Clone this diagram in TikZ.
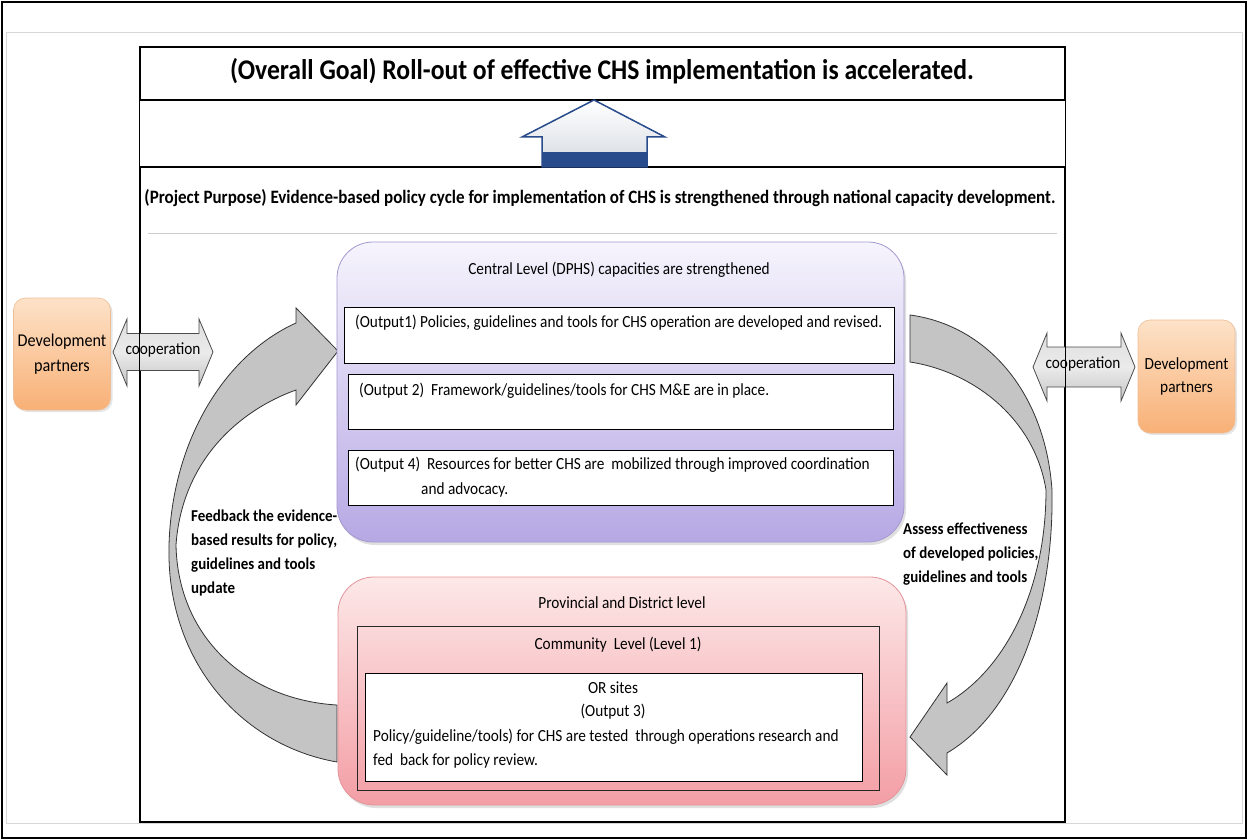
\documentclass[tikz,border=0pt]{standalone}
\usepackage{fontspec}
\setmainfont{Carlito}[FakeStretch=0.9]
\usetikzlibrary{shadows}
\definecolor{navy}{RGB}{40,75,140}
\definecolor{upfill}{RGB}{214,219,226}
\definecolor{panel}{RGB}{215,215,215}
\definecolor{sepgray}{RGB}{205,205,205}
\definecolor{arrgray}{RGB}{196,196,196}
\definecolor{arrlight}{RGB}{222,222,222}
\definecolor{purtop}{RGB}{246,244,253}
\definecolor{purbot}{RGB}{182,168,228}
\definecolor{purline}{RGB}{165,152,208}
\definecolor{pinktop}{RGB}{253,232,232}
\definecolor{pinkbot}{RGB}{243,158,165}
\definecolor{pinkline}{RGB}{228,148,155}
\definecolor{orgtop}{RGB}{253,226,200}
\definecolor{orgbot}{RGB}{248,176,118}
\definecolor{orgline}{RGB}{238,190,150}
\begin{document}
\begin{tikzpicture}[x=1pt,y=-1pt,
  frame/.style={draw=black, line width=1.2pt, inner sep=0pt},
  outbox/.style={draw=black, line width=0.9pt, fill=white, inner sep=0pt},
  t16/.style={inner sep=0pt, font=\fontsize{17}{20}\selectfont},
  b16/.style={inner sep=0pt, align=left, font=\bfseries\fontsize{16.6}{24}\selectfont},
  purbox/.style={draw=purline, line width=0.8pt, rounded corners=36pt, top color=purtop, bottom color=purbot, inner sep=0pt, drop shadow={opacity=0.25,shadow xshift=2pt,shadow yshift=-3pt}},
  pinkbox/.style={draw=pinkline, line width=0.8pt, rounded corners=36pt, top color=pinktop, bottom color=pinkbot, inner sep=0pt, drop shadow={opacity=0.25,shadow xshift=2pt,shadow yshift=-3pt}},
  dpbox/.style={draw=orgline, line width=0.6pt, rounded corners=12pt, top color=orgtop, bottom color=orgbot, inner sep=0pt, minimum width=97pt, minimum height=112pt, align=center, font=\fontsize{18}{25}\selectfont, drop shadow={opacity=0.2,shadow xshift=2pt,shadow yshift=-2pt}},
  curvarrow/.style={draw=black!80, line width=0.8pt, fill=arrgray},
  cooparrow/.style={draw=black!70, line width=0.8pt, top color=arrlight, bottom color=arrgray, middle color=arrlight!60!white},
  cooptxt/.style={inner sep=0pt, font=\fontsize{17}{20}\selectfont}
]
\useasboundingbox (0,0) rectangle (1248,840);
\fill[white] (0,0) rectangle (1248,840);
% outer frame and faint panel
\draw[line width=1.5pt] (2,2) rectangle (1246,838);
\draw[panel, line width=0.6pt] (6,32) rectangle (1242,823);

% goal box and purpose frame
\node[frame, minimum width=925pt, minimum height=53pt, fill=white] (goal) at (602.5,73.5) {};
\node[frame, minimum width=925pt, minimum height=655pt, fill=white] (purpose) at (602.5,494.5) {};
\draw[line width=1pt] (goal.south west) -- (purpose.north west);
\draw[line width=1pt] (goal.south east) -- (purpose.north east);
\node[inner sep=0pt, font=\bfseries\fontsize{28.5}{32}\selectfont] (goaltxt) at (602,71) {(Overall Goal) Roll-out of effective CHS implementation is accelerated.};

% up arrow
\coordinate (uptip) at (594,100);
\filldraw[draw=navy, line width=1.5pt, top color=white, bottom color=upfill]
  (uptip) -- (665,137) -- (647,137) -- (647,167) -- (542,167) -- (542,137) -- (522,137) -- cycle;
\fill[navy] (542,152) rectangle (647,167);

\node[inner sep=0pt, font=\bfseries\fontsize{18.9}{22}\selectfont] (purptxt) at (600,198) {(Project Purpose) Evidence-based policy cycle for implementation of CHS is strengthened through national capacity development.};
\draw[sepgray, line width=0.8pt] (148,233) -- (1057,233);

% curved arrows
\path[curvarrow]
  (337,762) .. controls (240,745) and (166,660) .. (169,545)
  .. controls (172,440) and (225,355) .. (296,323)
  -- (296,308) -- (338,351) -- (296,405) -- (296,390)
  .. controls (240,410) and (182,460) .. (176,545)
  .. controls (178,640) and (250,700) .. (337,705) -- cycle;
\path[curvarrow]
  (910,315) .. controls (985,325) and (1045,390) .. (1052,490)
  .. controls (1054,600) and (1020,710) .. (947,753)
  -- (947,775) -- (910,737) -- (947,683) -- (947,703)
  .. controls (1005,670) and (1046,590) .. (1046,490)
  .. controls (1035,420) and (975,372) .. (910,362) -- cycle;

% central level
\node[purbox, minimum width=567pt, minimum height=300pt] (central) at (620.5,392) {};
\node[t16] (centraltxt) at (619,270) {Central Level (DPHS) capacities are strengthened};
\node[outbox, minimum width=550pt, minimum height=56pt] (out1) at (619,335) {};
\node[t16, anchor=west] (out1txt) at (355,323) {(Output1) Policies, guidelines and tools for CHS operation are developed and revised.};
\node[outbox, minimum width=545pt, minimum height=55pt] (out2) at (620.5,401.5) {};
\node[t16, anchor=west] (out2txt) at (359,391) {(Output 2)\ \ Framework/guidelines/tools for CHS M\&E are in place.};
\node[outbox, minimum width=545pt, minimum height=55pt] (out4) at (620.5,477.5) {};
\node[t16, anchor=west] (out4txta) at (355,465) {(Output 4)\ \ Resources for better CHS are\ \ mobilized through improved coordination};
\node[t16, anchor=west] (out4txtb) at (421,490) {and advocacy.};

% provincial level
\node[pinkbox, minimum width=568pt, minimum height=228pt] (prov) at (622,691) {};
\node[t16] (provtxt) at (622,603) {Provincial and District level};
\node[draw=black!85, line width=0.8pt, inner sep=0pt, minimum width=522pt, minimum height=164pt] (comm) at (618,708) {};
\node[t16] (commtxt) at (618,645) {Community\ \ Level (Level 1)};
\node[outbox, minimum width=497pt, minimum height=108pt] (orbox) at (613.5,727) {};
\node[t16] (ortxt1) at (613,688) {OR sites};
\node[t16] (ortxt2) at (613,712) {(Output 3)};
\node[t16, anchor=west] (ortxt3) at (373,737) {Policy/guideline/tools) for CHS are tested\ \ through operations research and};
\node[t16, anchor=west] (ortxt4) at (373,761) {fed\ \ back for policy review.};

% curved arrow labels
\node[b16, anchor=west] (fbtxt) at (191,553) {Feedback the evidence-\\based results for policy,\\guidelines and tools\\update};
\node[b16, anchor=west] (astxt) at (903,554) {Assess effectiveness\\of developed policies,\\guidelines and tools};

% development partners
\node[dpbox] (dpl) at (62,354) {Development\\partners};
\node[dpbox, minimum height=113pt, font=\fontsize{17}{23}\selectfont] (dpr) at (1186.5,376.5) {Development\\partners};

% cooperation arrows
\path[cooparrow] (113,352) -- (127,319) -- (127,333.5) -- (199,333.5) -- (199,319) -- (213,352)
  -- (199,386) -- (199,370.5) -- (127,370.5) -- (127,386) -- cycle;
\path[cooparrow] (1033,367) -- (1047,333) -- (1047,347) -- (1121,347) -- (1121,333) -- (1135,367)
  -- (1121,401) -- (1121,387) -- (1047,387) -- (1047,401) -- cycle;
\draw[line width=1pt] (purpose.north west) ++(0,-5) -- (purpose.south west);
\draw[line width=1pt] (purpose.north east) ++(0,-5) -- (purpose.south east);
\node[cooptxt] (coopl) at (163,350) {cooperation};
\node[cooptxt] (coopr) at (1083,364) {cooperation};
\end{tikzpicture}
\end{document}
